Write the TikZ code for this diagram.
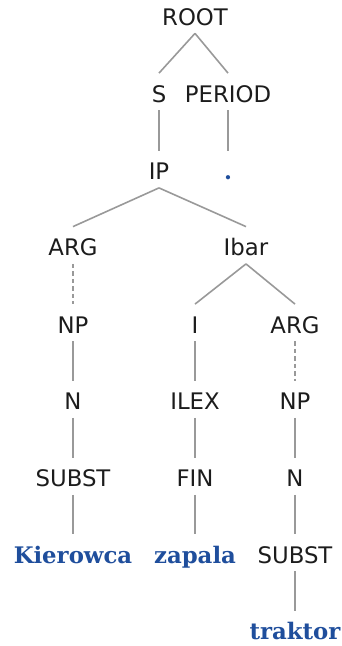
\documentclass[tikz,border=0pt]{standalone}
\usepackage{fontspec}
\setmainfont{DejaVu Sans}
\newfontfamily\leaffont{DejaVu Serif}[BoldFont={DejaVu Serif Bold}]
\definecolor{labelc}{HTML}{1C1C1C}
\definecolor{edgec}{HTML}{999999}
\definecolor{leafc}{HTML}{1F4E9C}
\begin{document}
\begin{tikzpicture}[x=1pt,y=-1pt,
  lab/.style={inner sep=0pt, text height=16.4pt, text depth=0pt, anchor=center,
    text=labelc, font=\fontsize{22.8}{27}\selectfont},
  leaf/.style={lab, text=leafc, font=\fontsize{22.8}{27}\selectfont\leaffont\bfseries},
  edge/.style={draw=edgec, line width=1.6pt},
  dedge/.style={edge, dash pattern=on 4.5pt off 3pt}]
\useasboundingbox (0,0) rectangle (342,646);
\node[lab] (root) at (195,17) {ROOT};
\node[lab] (s) at (159,94) {S};
\node[lab] (period) at (228,94) {PERIOD};
\node[lab] (ip) at (159,171.5) {IP};
\node[leaf] (dot) at (228,171.5) {.};
\node[lab] (arg1) at (73,247.5) {ARG};
\node[lab] (ibar) at (246,247.5) {Ibar};
\node[lab] (np1) at (73,325) {NP};
\node[lab] (i) at (195,325) {I};
\node[lab] (arg2) at (295,325) {ARG};
\node[lab] (n1) at (73,401.5) {N};
\node[lab] (ilex) at (195,401.5) {ILEX};
\node[lab] (np2) at (295,401.5) {NP};
\node[lab] (subst1) at (73,478.5) {SUBST};
\node[lab] (fin) at (195,478.5) {FIN};
\node[lab] (n2) at (295,478.5) {N};
\node[leaf] (kier) at (73,555) {Kierowca};
\node[leaf] (zap) at (195,555) {zapala};
\node[lab] (subst2) at (295,555) {SUBST};
\node[leaf] (trak) at (295,631.5) {traktor};
\newcommand{\tedge}[3][edge]{\draw[#1] ([yshift=-8pt]#2.south) -- ([yshift=12.5pt]#3.north);}
\tedge{root}{s}
\tedge{root}{period}
\tedge{s}{ip}
\tedge{period}{dot}
\tedge{ip}{arg1}
\tedge{ip}{ibar}
\tedge[dedge]{arg1}{np1}
\tedge{ibar}{i}
\tedge{ibar}{arg2}
\tedge{np1}{n1}
\tedge{i}{ilex}
\tedge[dedge]{arg2}{np2}
\tedge{n1}{subst1}
\tedge{ilex}{fin}
\tedge{np2}{n2}
\tedge{subst1}{kier}
\tedge{fin}{zap}
\tedge{n2}{subst2}
\tedge{subst2}{trak}
\end{tikzpicture}
\end{document}
